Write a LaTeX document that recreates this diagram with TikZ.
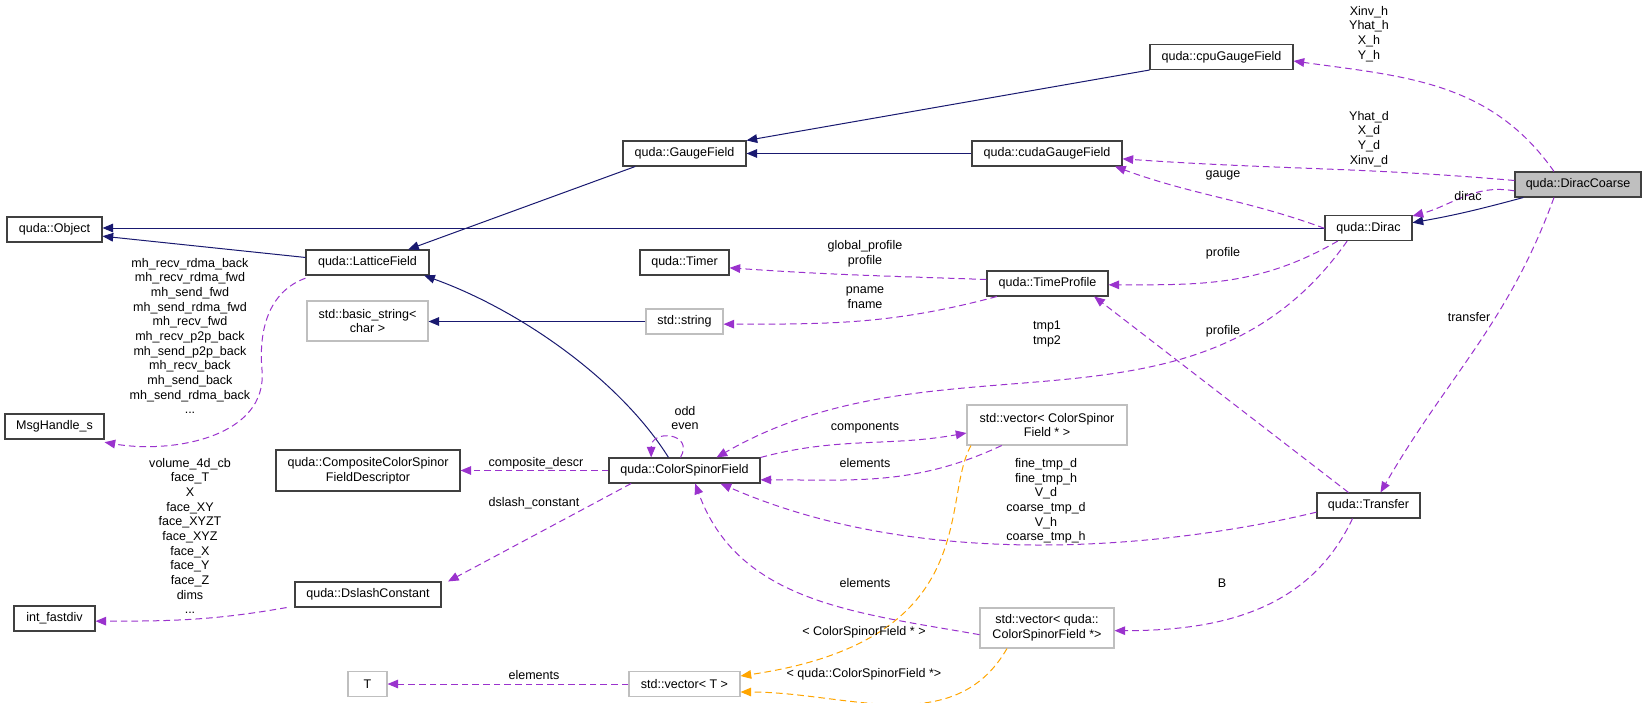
\documentclass[tikz,border=0pt]{standalone}
\usepackage{fontspec}
\setmainfont{Liberation Sans}
\usetikzlibrary{arrows.meta, positioning}

\definecolor{inh}{HTML}{191970}
\definecolor{use}{HTML}{9A32CD}
\definecolor{tmpl}{HTML}{FFA500}
\definecolor{ext}{HTML}{BFBFBF}

\begin{document}
\begin{tikzpicture}[x=0.75pt,y=-0.75pt,
    font=\fontsize{9.4}{11}\selectfont,
    cls/.style={draw=black!75,line width=0.8pt,fill=white,inner sep=1pt,minimum height=18.75pt,align=center},
    extcls/.style={cls,draw=ext},
    w/.style={minimum width=0.75*#1 pt},
    lbl/.style={inner sep=0pt,align=center},
    inherit/.style={inh,line width=0.75pt,-{Triangle[length=8pt,width=6.5pt]}},
    member/.style={use,line width=0.75pt,dash pattern=on 5pt off 3pt,-{Triangle[length=8pt,width=6.5pt]}},
    templ/.style={tmpl,line width=0.75pt,dash pattern=on 5pt off 3pt,-{Triangle[length=8pt,width=6.5pt]}}]

  \useasboundingbox (0,0) rectangle (1647,703);

  % classes
  \node[cls,w=126,fill=ext] (coarse) at (1578,184.5) {quda::DiracCoarse};
  \node[cls,w=143] (cpugauge) at (1221.5,57) {quda::cpuGaugeField};
  \node[cls,w=150] (cudagauge) at (1047,153.5) {quda::cudaGaugeField};
  \node[cls,w=123] (gauge) at (684.5,153.5) {quda::GaugeField};
  \node[cls,w=95] (object) at (54.5,229.5) {quda::Object};
  \node[cls,w=87] (dirac) at (1368.5,228) {quda::Dirac};
  \node[cls,w=123] (lattice) at (367.5,262.5) {quda::LatticeField};
  \node[cls,w=89] (timer) at (684.5,262.5) {quda::Timer};
  \node[cls,w=121] (profile) at (1047.5,283.5) {quda::TimeProfile};
  \node[extcls,w=121,minimum height=30pt] (basicstr) at (367.5,321) {std::basic\_string\textless\\char \textgreater};
  \node[extcls,w=77] (string) at (684.5,321.5) {std::string};
  \node[cls,w=99] (msghandle) at (54.5,426.5) {MsgHandle\_s};
  \node[extcls,w=160,minimum height=30pt] (vecptr) at (1047,425) {std::vector\textless{} ColorSpinor\\Field * \textgreater};
  \node[cls,w=184,minimum height=30.75pt] (compdesc) at (368,470.5) {quda::CompositeColorSpinor\\FieldDescriptor};
  \node[cls,w=151] (spinor) at (684.5,470.5) {quda::ColorSpinorField};
  \node[cls,w=103] (transfer) at (1368.5,505.5) {quda::Transfer};
  \node[cls,w=146] (dslash) at (368,594.5) {quda::DslashConstant};
  \node[cls,w=81] (fastdiv) at (54.5,618.5) {int\_fastdiv};
  \node[extcls,w=134,minimum height=30pt] (vecquda) at (1047,628) {std::vector\textless{} quda::\\ColorSpinorField *\textgreater};
  \node[extcls,w=39] (tparam) at (367.5,684) {T};
  \node[extcls,w=111] (vect) at (684.5,684) {std::vector\textless{} T \textgreater};

  % inheritance
  \draw[inherit] ([yshift=-6]lattice.north west) -- ([yshift=-5]object.east);
  \draw[inherit] (dirac.west) -- (object.east |- dirac.west);
  \draw[inherit] ([xshift=-37]gauge.south) -- ([xshift=-16]lattice.north east);
  \draw[inherit] (cpugauge.south west) -- (gauge.north east);
  \draw[inherit] (cudagauge.west) -- (gauge.east);
  \draw[inherit] (string.west) -- (basicstr.east |- string.west);
  \draw[inherit] ([xshift=-12]spinor.north) .. controls (620,380) and (520,310) .. ([xshift=-4]lattice.south east);
  \draw[inherit] ([xshift=-41]coarse.south) to[out=195,in=10] ([yshift=4]dirac.east);

  % members
  \draw[member] ([xshift=-18]coarse.north) to[out=125,in=-8] ([yshift=-3]cpugauge.east);
  \draw[member] ([yshift=3]coarse.west) to[out=175,in=-4] ([yshift=-4]cudagauge.east);
  \draw[member] ([yshift=5]coarse.south west) to[out=170,in=15] ([yshift=9]dirac.east);
  \draw[member] ([xshift=-18]coarse.south) to[out=-110,in=60] ([xshift=9]transfer.north);
  \draw[member] ([yshift=-10]dirac.north west) to[out=160,in=-20] ([xshift=51]cudagauge.south);
  \draw[member] ([xshift=-23]dirac.south) to[out=-150,in=0] ([yshift=-1]profile.east);
  \draw[member] ([xshift=-16]dirac.south) to[out=-125,in=30] ([xshift=24]spinor.north);
  \draw[member] ([yshift=3]profile.west) to[out=178,in=-4] ([yshift=-4]timer.east);
  \draw[member] ([xshift=-38]profile.south) to[out=-165,in=0] ([yshift=-2]string.east);
  \draw[member] ([xshift=-15]transfer.north) -- ([xshift=35]profile.south);
  \draw[member] ([yshift=-5]transfer.west) .. controls (1180,545) and (930,575) .. ([xshift=-30]spinor.south east);
  \draw[member] ([xshift=-12]transfer.south) to[out=-115,in=0] ([yshift=-2]vecquda.east);
  \draw[member] ([yshift=-2]lattice.south west) to[out=200,in=95] (262,370) to[out=-85,in=-10] ([yshift=-2]msghandle.south east);
  \draw[member] ([xshift=-61]dslash.south) to[out=190,in=0] ([yshift=-2]fastdiv.east);
  \draw[member] (spinor.west) -- (compdesc.east |- spinor.west);
  \draw[member] ([xshift=-40]spinor.south) -- ([xshift=60]dslash.north);
  \draw[member] ([xshift=-3]spinor.north) to[out=60,in=90,looseness=2.5] ([xshift=-25]spinor.north);
  \draw[member] (spinor.north east) to[out=15,in=190] ([yshift=-6]vecptr.west);
  \draw[member] ([xshift=-34]vecptr.south) to[out=-155,in=0] ([yshift=-7]spinor.east);
  \draw[member] ([yshift=-5]vecquda.west) to[out=170,in=-70] ([xshift=8]spinor.south);
  \draw[member] (vect.west) -- (tparam.east);

  % templates
  \draw[templ] ([xshift=-57]vecptr.south) .. controls (940,500) and (985,640) .. ([yshift=6]vect.east);
  \draw[templ] ([xshift=-30]vecquda.south) to[out=-120,in=0] ([yshift=-6]vect.east);

  % labels
  \node[lbl] (lcpu) at (1369,34) {Xinv\_h\\Yhat\_h\\X\_h\\Y\_h};
  \node[lbl] (lcuda) at (1369,139) {Yhat\_d\\X\_d\\Y\_d\\Xinv\_d};
  \node[lbl] (lgauge) at (1223,175) {gauge};
  \node[lbl] (ldirac) at (1468,196) {dirac};
  \node[lbl] (lprof1) at (1223,253) {profile};
  \node[lbl] (lglob) at (865,254) {global\_profile\\profile};
  \node[lbl] (lpname) at (865,298) {pname\\fname};
  \node[lbl] (ltmp) at (1047,334) {tmp1\\tmp2};
  \node[lbl] (lprof2) at (1223,331) {profile};
  \node[lbl] (ltransfer) at (1469,317) {transfer};
  \node[lbl] (lmh) at (190,336) {mh\_recv\_rdma\_back\\mh\_recv\_rdma\_fwd\\mh\_send\_fwd\\mh\_send\_rdma\_fwd\\mh\_recv\_fwd\\mh\_recv\_p2p\_back\\mh\_send\_p2p\_back\\mh\_recv\_back\\mh\_send\_back\\mh\_send\_rdma\_back\\...};
  \node[lbl] (lvol) at (190,536) {volume\_4d\_cb\\face\_T\\X\\face\_XY\\face\_XYZT\\face\_XYZ\\face\_X\\face\_Y\\face\_Z\\dims\\...};
  \node[lbl] (loddeven) at (685,418) {odd\\even};
  \node[lbl] (lcomp) at (865,428) {components};
  \node[lbl] (lelem1) at (865,463) {elements};
  \node[lbl] (lcompdesc) at (536,463) {composite\_descr};
  \node[lbl] (ldslash) at (534,503) {dslash\_constant};
  \node[lbl] (lfine) at (1046,501) {fine\_tmp\_d\\fine\_tmp\_h\\V\_d\\coarse\_tmp\_d\\V\_h\\coarse\_tmp\_h};
  \node[lbl] (lelem2) at (865,583) {elements};
  \node[lbl] (lB) at (1222,583) {B};
  \node[lbl] (lcsf) at (864,632) {\textless{} ColorSpinorField * \textgreater};
  \node[lbl] (lqcsf) at (864,674) {\textless{} quda::ColorSpinorField *\textgreater};
  \node[lbl] (lelem3) at (534,675) {elements};
\end{tikzpicture}
\end{document}
